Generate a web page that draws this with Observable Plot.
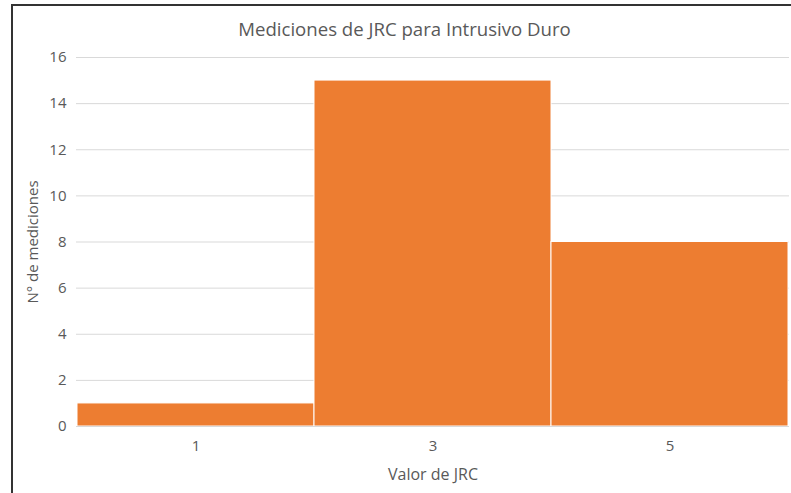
<!DOCTYPE html>
<html>
<head>
<meta charset="utf-8">
<script src="https://cdn.jsdelivr.net/npm/d3@7"></script>
<script src="https://cdn.jsdelivr.net/npm/@observablehq/plot@0.6"></script>
<style>
  html, body { margin: 0; padding: 0; background: #fff; }
  #wrap { position: relative; width: 791px; height: 493px; overflow: hidden; font-family: "Open Sans", sans-serif; }
  #frame { position: absolute; left: 11px; top: 4px; width: 790px; height: 500px; border-top: 2px solid #333; border-left: 2px solid #333; box-sizing: border-box; pointer-events: none; }
  #title { position: absolute; left: 18px; width: 773px; top: 16px; text-align: center; font-size: 18.6px; color: #595959; }
  svg { position: absolute; left: 0; top: 0; }
</style>
</head>
<body>
<div id="wrap">
  <div id="title">Mediciones de JRC para Intrusivo Duro</div>
  <div id="frame"></div>
</div>
<script>
const categories = ["1", "3", "5"];
const counts = [1, 15, 8];
const yTicks = [0, 2, 4, 6, 8, 10, 12, 14, 16];
const xLabel = "Valor de JRC";
const yLabel = "N° de mediciones";

const data = categories.map((c, i) => ({ jrc: c, n: counts[i] }));

const chart = Plot.plot({
  width: 791,
  height: 493,
  marginTop: 57,
  marginBottom: 67,
  marginLeft: 76,
  marginRight: 2,
  style: { fontFamily: "Open Sans, sans-serif", fontSize: "15px", color: "#595959", background: "transparent" },
  x: { type: "band", domain: categories, padding: 0, label: null },
  y: { domain: [0, 16], label: null },
  marks: [
    Plot.gridY(yTicks, { stroke: "#d9d9d9", strokeOpacity: 1, strokeWidth: 1 }),
    Plot.barY(data, { x: "jrc", y: "n", fill: "#ED7D31", stroke: "#ffffff", strokeWidth: 1 }),
    Plot.ruleY([0], { stroke: "#d9d9d9", strokeWidth: 1 }),
    Plot.axisY({ ticks: yTicks, tickSize: 0, tickPadding: 10, label: null, fill: "#595959", fontSize: 15 }),
    Plot.axisX({ tickSize: 0, tickPadding: 14, label: null, fill: "#595959", fontSize: 15 }),
    Plot.text([xLabel], { frameAnchor: "bottom", dy: 53, fontSize: 16, fill: "#595959" }),
    Plot.text([yLabel], { frameAnchor: "left", dx: -43, rotate: -90, textAnchor: "middle", fontSize: 15, fill: "#595959" })
  ]
});

document.getElementById("wrap").insertBefore(chart, document.getElementById("title"));
</script>
</body>
</html>
